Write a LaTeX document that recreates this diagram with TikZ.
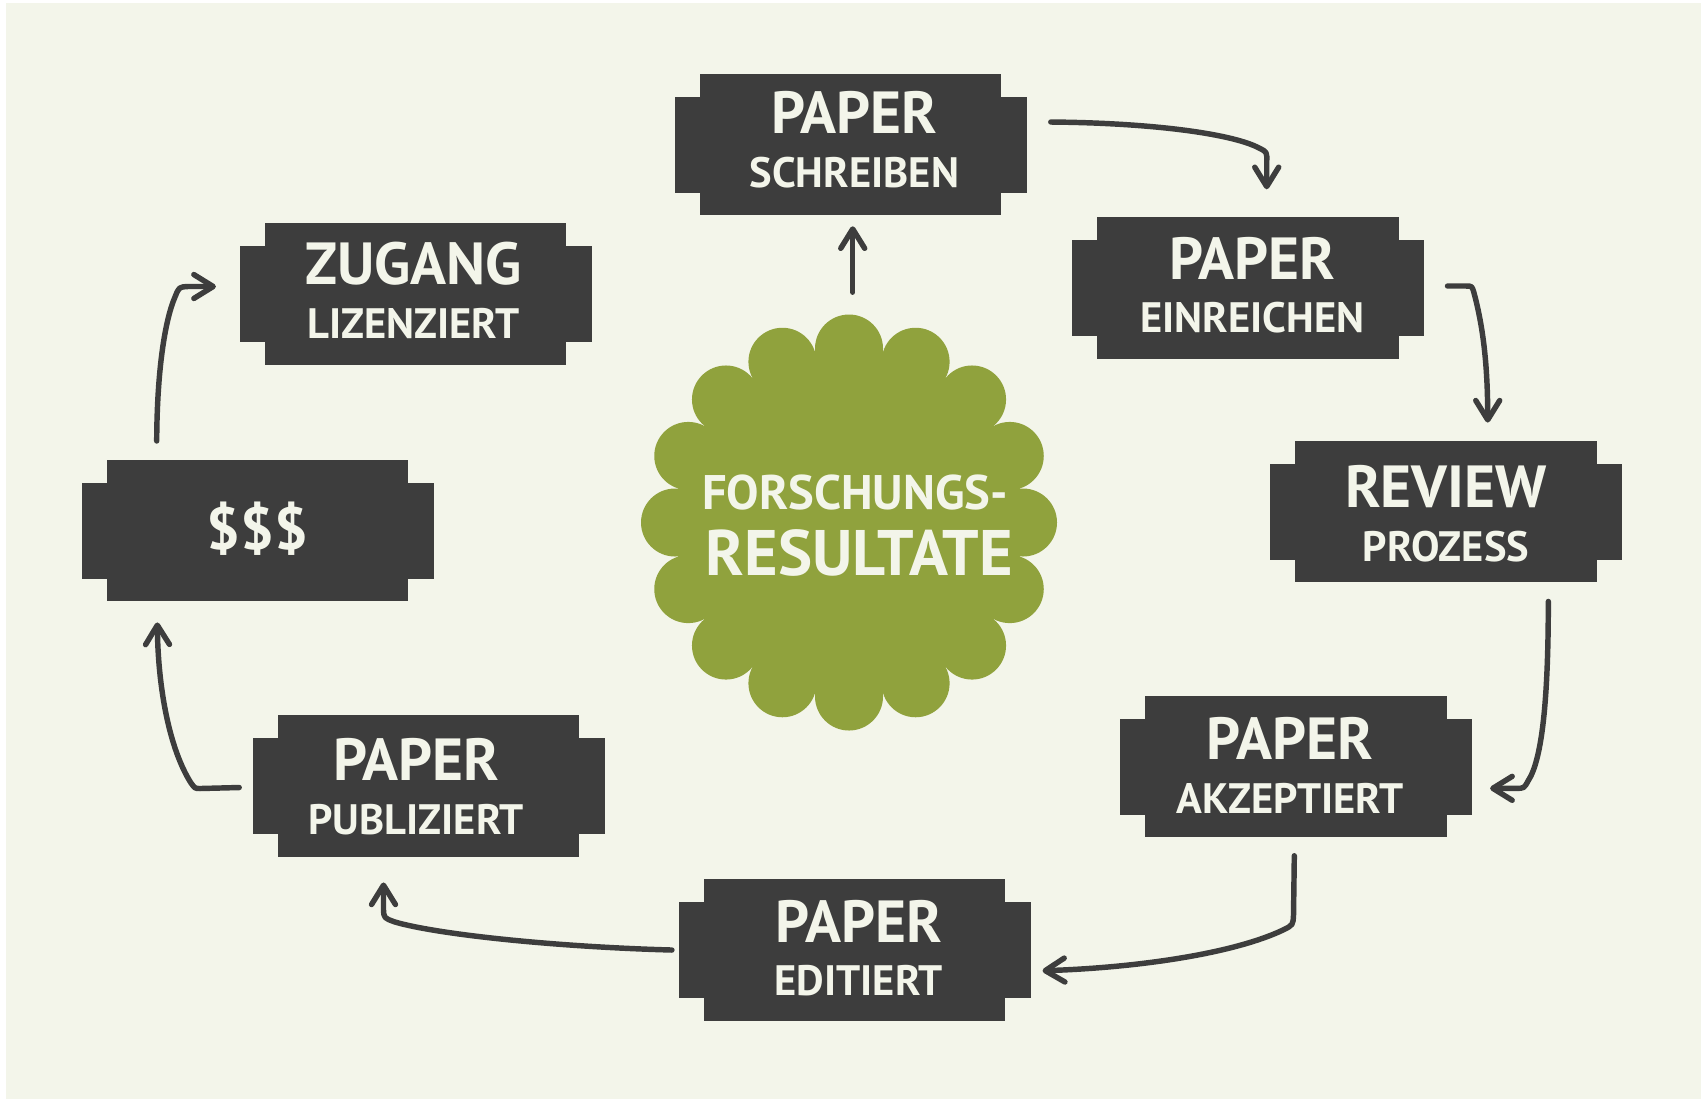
\documentclass[tikz,border=0pt]{standalone}
\usepackage{fontspec}
\setmainfont{PT Sans}
\usetikzlibrary{calc,arrows.meta}
\definecolor{bgcream}{HTML}{F3F5EA}
\definecolor{boxgray}{HTML}{3D3D3D}
\definecolor{leafgreen}{HTML}{90A23D}
\tikzset{
  box/.style={fill=boxgray, minimum width=3.01cm, minimum height=1.41cm, inner sep=0pt},
  bigtxt/.style={anchor=base, inner sep=0pt, text=bgcream, font=\bfseries\fontsize{16.9}{18}\selectfont},
  smalltxt/.style={anchor=base, inner sep=0pt, text=bgcream, font=\bfseries\fontsize{12.1}{14}\selectfont},
  flow/.style={draw=boxgray, line width=1.55pt, line cap=round, line join=round,
    -{Straight Barb[round,length=5.5pt,width=6.8pt]}},
}
% box with side tabs: name, position
\newcommand\stepshape[2]{%
  \fill[boxgray] ($#2+(-176,-48)$) rectangle ($#2+(176,48)$);
  \node[box] (#1) at #2 {};
}
% box with two lines of text: name, position, text shift, top line, bottom line
\newcommand\stepbox[5]{%
  \stepshape{#1}{#2}
  \node[bigtxt] (#1-top) at ($(#1)+#3+(0,-12)$) {#4};
  \node[smalltxt] (#1-bot) at ($(#1)+#3+(0,41.5)$) {#5};
}

\begin{document}
\begin{tikzpicture}[x=0.01cm, y=-0.01cm]
  \useasboundingbox (0,0) rectangle (1701,1099);
  \fill[white] (0,0) rectangle (1701,1099);
  \fill[bgcream] (6,3) rectangle (1701,1099);

  %%%%% flower %%%%%
  \node[circle, fill=leafgreen, minimum size=3.48cm, inner sep=0pt] (flower) at (849,522.5) {};
  \foreach \a in {0,22.5,...,337.5}
    \fill[leafgreen] (flower.center) ++(\a:174) circle[radius=34];
  \node[anchor=base, inner sep=0pt, text=bgcream, font=\bfseries\fontsize{13.8}{16}\selectfont]
    (flower-top) at ($(flower)+(6,-13.2)$) {FORSCHUNGS-};
  \node[anchor=base, inner sep=0pt, text=bgcream, font=\bfseries\fontsize{18.3}{20}\selectfont]
    (flower-bot) at ($(flower)+(10.5,52.5)$) {RESULTATE};

  %%%%% boxes %%%%%
  \stepbox{schreiben}{(850.5,144.5)}{(3.8,1)}{PAPER}{SCHREIBEN}
  \stepbox{einreichen}{(1248,288)}{(4.3,3.3)}{PAPER}{EINREICHEN}
  \stepbox{review}{(1446,511.5)}{(0,8)}{REVIEW}{PROZESS}
  \stepbox{akzeptiert}{(1296,766.5)}{(-6,5.4)}{PAPER}{AKZEPTIERT}
  \stepbox{editiert}{(854.5,950)}{(4.3,4.3)}{PAPER}{EDITIERT}
  \stepbox{publiziert}{(428.7,786)}{(-12.5,6.5)}{PAPER}{PUBLIZIERT}
  \stepbox{zugang}{(415.5,294)}{(-2,2.7)}{ZUGANG}{LIZENZIERT}
  \stepshape{dollar}{(257.5,530.5)}
  \node[bigtxt] (dollar-txt) at ($(dollar)+(0,19)$) {\$\$\$};

  %%%%% arrows %%%%%
  \draw[flow] ($(flower.north)+(3.7,-55.5)$) -- ($(schreiben.south)+(2.2,10.5)$);
  \draw[flow] ($(schreiben.east)+(49,-22.5)$) .. controls (1160,123) and (1235,135) .. (1259,148)
    .. controls (1267,152) .. (1266.7,162) -- ($(einreichen.north)+(18.7,-27.5)$);
  \draw[flow] ($(einreichen.east)+(48.2,-2)$) -- (1466,286) .. controls (1472,286) .. (1474,293)
    .. controls (1484,330) and (1487.7,370) .. ($(review.north)+(41.7,-17.7)$);
  \draw[flow] ($(review.south)+(102.3,18.7)$) .. controls (1548.3,700) and (1542,760) .. (1528,781)
    .. controls (1524,788.3) .. (1516,788.3) -- ($(akzeptiert.east)+(42.8,21.8)$);
  \draw[flow] ($(akzeptiert.south)+(-1.7,18)$) -- (1293.5,915) .. controls (1293,925) .. (1283,930)
    .. controls (1230,955) and (1130,968) .. ($(editiert.east)+(36.7,20.7)$);
  \draw[flow] ($(editiert.west)+(-31.3,0)$) .. controls (560,947) and (440,935) .. (395,922)
    .. controls (384,918) .. (383.5,910) -- ($(publiziert.south)+(-45.2,25.2)$);
  \draw[flow] ($(publiziert.west)+(-38.2,1.5)$) -- (200,788.5) .. controls (195,788.5) .. (191,783)
    .. controls (170,750) and (158,690) .. ($(dollar.south)+(-100.2,20.7)$);
  \draw[flow] ($(dollar.north)+(-100.8,-18.3)$) .. controls (157,370) and (165,320) .. (175,297)
    .. controls (179,287) .. (188,286.5) -- ($(zugang.west)+(-48.3,-7.5)$);
\end{tikzpicture}
\end{document}
